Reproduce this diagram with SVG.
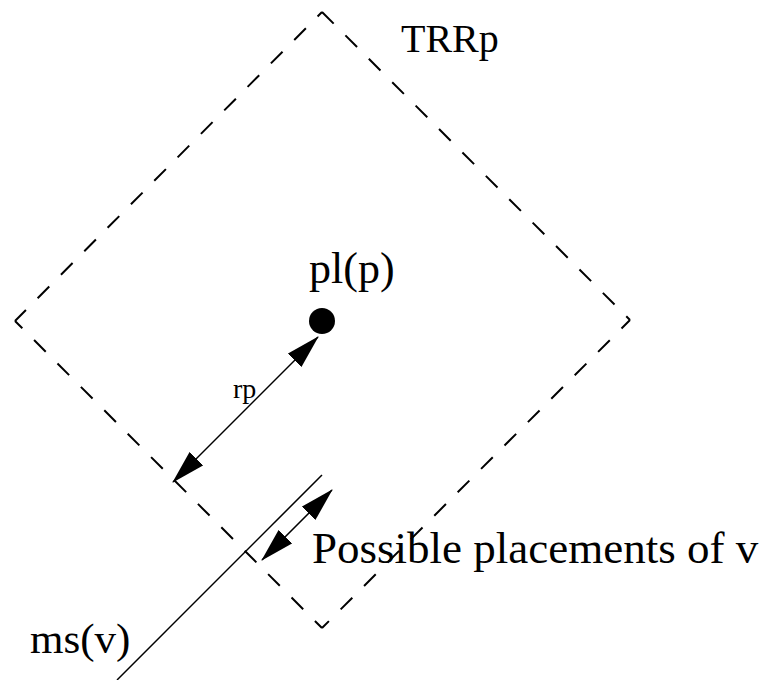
<svg xmlns="http://www.w3.org/2000/svg" width="769" height="680" viewBox="0 0 769 680">
<style>
.dash{fill:none;stroke:#000;stroke-width:2;stroke-dasharray:16.5 16.6}
.ln{fill:none;stroke:#000;stroke-width:1.5}
.t{font-family:"Liberation Serif","Times New Roman",serif;fill:#000}
</style>
<defs>
<marker id="ah" viewBox="0 0 34 19" refX="33" refY="9.5" markerWidth="34" markerHeight="19" markerUnits="userSpaceOnUse" orient="auto-start-reverse">
<path d="M0,0 L34,9.5 L0,19 z" fill="#000"/>
</marker>
</defs>
<g id="trrp">
<line class="dash" x1="322" y1="12" x2="630" y2="320" stroke-dashoffset="0"/>
<line class="dash" x1="630" y1="320" x2="322" y2="628" stroke-dashoffset="4.5"/>
<line class="dash" x1="322" y1="628" x2="15" y2="321" stroke-dashoffset="6.5"/>
<line class="dash" x1="15" y1="321" x2="322" y2="12" stroke-dashoffset="1"/>
<text class="t" x="401" y="52" font-size="40">TRRp</text>
</g>
<g id="plp">
<circle cx="322" cy="321" r="13" fill="#000"/>
<text class="t" x="309" y="283" font-size="44">pl(p)</text>
</g>
<g id="msv">
<line class="ln" x1="117" y1="680" x2="322" y2="475"/>
<text class="t" x="30" y="653" font-size="43">ms(v)</text>
</g>
<g id="connectors">
<line class="ln" x1="173" y1="482" x2="318" y2="337" marker-start="url(#ah)" marker-end="url(#ah)"/>
<line class="ln" x1="262" y1="560" x2="332" y2="490" marker-start="url(#ah)" marker-end="url(#ah)"/>
</g>
<g id="labels">
<text class="t" x="233" y="398" font-size="28">rp</text>
<text class="t" x="312" y="563" font-size="45">Possible placements of v</text>
</g>
</svg>
